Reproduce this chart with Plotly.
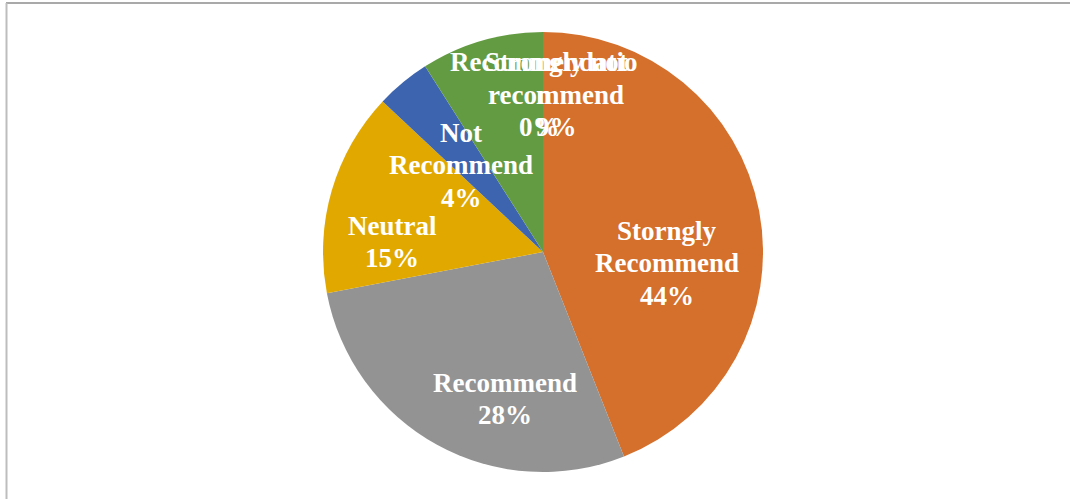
import plotly.graph_objects as go

# Survey responses (percent of respondents), clockwise from 12 o'clock
categories = ["Strongly not recommend", "Storngly Recommend", "Recommend",
              "Neutral", "Not Recommend", "Recommendation"]
shares = [0, 44, 28, 15, 4, 9]
slice_colors = ["#4472C4", "#D46F2C", "#939393", "#E1A900", "#3D64AE", "#639B42"]

# How each data label is wrapped into lines
label_lines = [
    ["Strongly not", "recommend"],
    ["Storngly", "Recommend"],
    ["Recommend"],
    ["Neutral"],
    ["Not", "Recommend"],
    ["Recommendatio", "n"],
]
# Data-label block centres (pixels from top-left of the page)
label_centers = [(556, 95), (667, 263), (505, 399), (392, 242), (461, 165), (543, 95)]
# Horizontal centre of the percentage line of each label
pct_line_x = [540, 667, 505, 392, 461, 556]

W, H = 1070, 499
CX, CY, R = 543, 252, 220
LINE_STEP = 32.5

fig = go.Figure(go.Pie(
    labels=categories,
    values=shares,
    sort=False,
    direction="clockwise",
    rotation=0,
    marker=dict(colors=slice_colors, line=dict(width=0)),
    textinfo="none",
    hoverinfo="label+percent",
    showlegend=False,
    domain=dict(x=[(CX - R) / W, (CX + R) / W], y=[1 - (CY + R) / H, 1 - (CY - R) / H]),
))

label_font = dict(family="Liberation Serif", size=27, color="white", weight="bold")

annotations = []
for cat_lines, share, (lx, ly), px in zip(label_lines, shares, label_centers, pct_line_x):
    lines = cat_lines + [f"{share}%"]
    n = len(lines)
    for i, line in enumerate(lines):
        y_px = ly + (i - (n - 1) / 2) * LINE_STEP
        x_px = px if i == n - 1 else lx
        annotations.append(dict(
            x=x_px / W, y=1 - y_px / H, xref="paper", yref="paper",
            text=line, showarrow=False, xanchor="center", yanchor="middle",
            font=label_font,
        ))

# Chart-area frame (top and left edges)
shapes = [
    dict(type="line", xref="paper", yref="paper", x0=6 / W, x1=1, y0=1 - 3 / H, y1=1 - 3 / H,
         line=dict(color="#8C8C8C", width=1.5)),
    dict(type="line", xref="paper", yref="paper", x0=6.5 / W, x1=6.5 / W, y0=0, y1=1 - 3 / H,
         line=dict(color="#BDBDBD", width=2)),
]

fig.update_layout(
    width=W, height=H,
    margin=dict(l=0, r=0, t=0, b=0),
    paper_bgcolor="white", plot_bgcolor="white",
    annotations=annotations, shapes=shapes,
)

fig.write_html("out.html")
